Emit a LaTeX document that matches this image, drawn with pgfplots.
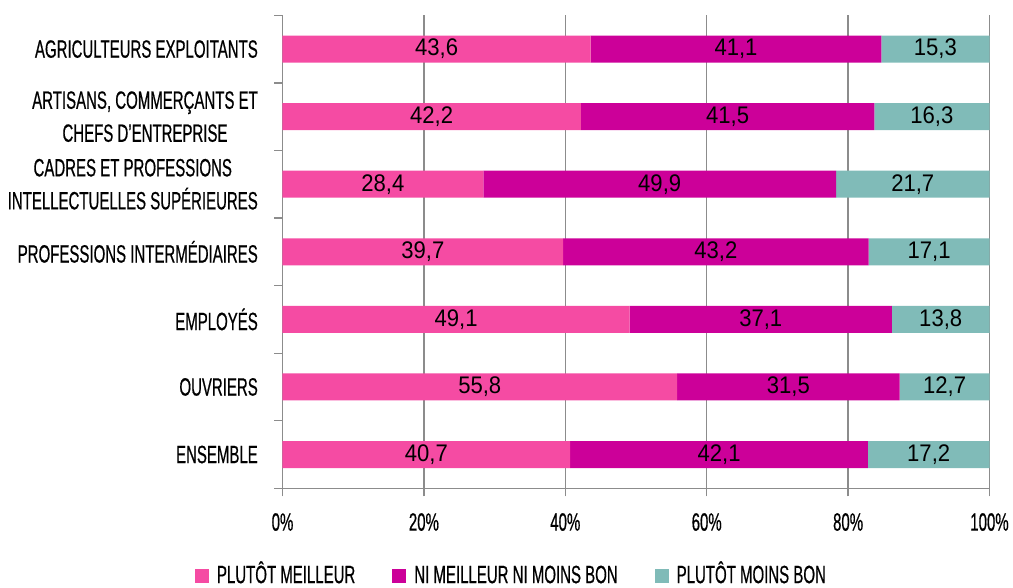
\documentclass[border=0pt]{standalone}
\usepackage{pgfplots}
\pgfplotsset{compat=1.18}
\usepackage{pgfplotstable}
\usepackage{fontspec}
\setmainfont{Liberation Sans}[FakeStretch=0.6, FakeBold=0.5]
\newfontfamily\numfont{Liberation Sans}[FakeStretch=0.92]
\definecolor{cpink}{HTML}{F54BA3}
\definecolor{cmag}{HTML}{CC0099}
\definecolor{cteal}{HTML}{80BBB8}
\definecolor{cgrid}{RGB}{140,140,140}
\pgfplotstableread{
y a b c
0 40.7 42.1 17.2
1 55.8 31.5 12.7
2 49.1 37.1 13.8
3 39.7 43.2 17.1
4 28.4 49.9 21.7
5 42.2 41.5 16.3
6 43.6 41.1 15.3
}\data
\pgfplotstableread{
x y l
20.35 0 40,7
61.75 0 42,1
91.4 0 17,2
27.9 1 55,8
71.55 1 31,5
93.65 1 12,7
24.55 2 49,1
67.65 2 37,1
93.1 2 13,8
19.85 3 39,7
61.3 3 43,2
91.45 3 17,1
14.2 4 28,4
53.35 4 49,9
89.15 4 21,7
21.1 5 42,2
62.95 5 41,5
91.85 5 16,3
21.8 6 43,6
64.15 6 41,1
92.35 6 15,3
}\labels
\begin{document}
\begin{tikzpicture}
\begin{axis}[name=ax,
  scale only axis, width=707pt, height=473pt,
  xmin=0, xmax=100, ymin=-0.5, ymax=6.5,
  axis x line*=bottom, axis y line*=left,
  axis line style={cgrid, line width=1.3pt, -},
  xtick={0,20,...,100},
  xticklabel={\pgfmathprintnumber{\tick}\%},
  /pgf/number format/assume math mode=true,
  ytick={0,...,6},
  yticklabels={ENSEMBLE, OUVRIERS, EMPLOYÉS, PROFESSIONS INTERMÉDIAIRES,
    {CADRES ET PROFESSIONS\\INTELLECTUELLES SUPÉRIEURES},
    {ARTISANS, COMMERÇANTS ET\\CHEFS D'ENTREPRISE},
    AGRICULTEURS EXPLOITANTS},
  minor ytick={-0.5,0.5,...,6.5},
  tick align=outside,
  major tick length=8pt, minor tick length=8pt,
  every tick/.append style={cgrid, line width=1.3pt},
  major y tick style={draw=none},
  xmajorgrids, grid style={cgrid, line width=1.3pt},
  ticklabel style={font=\fontsize{25}{33}\selectfont, text=black},
  xticklabel style={inner sep=0pt, yshift=-16.7pt},
  yticklabel style={inner sep=0pt, align=center, xshift=-16.5pt},
  xbar stacked, bar width=27pt,
  legend columns=3,
  legend image code/.code={\fill[#1] (0pt,0pt) rectangle (14pt,14pt);},
  legend style={at={(-0.1238,-0.1790)}, anchor=west, draw=none, fill=none,
    inner sep=0pt, outer sep=0pt, cells={anchor=base west},
    nodes={inner sep=0pt},
    font=\fontsize{25}{28}\selectfont,
    /tikz/every odd column/.append style={column sep=8pt},
    /tikz/every even column/.append style={column sep=37pt}},
]
\addplot[fill=cpink, draw=none] table[x=a, y=y]{\data};
\addlegendentry{PLUTÔT MEILLEUR}
\addplot[fill=cmag, draw=none] table[x=b, y=y]{\data};
\addlegendentry{NI MEILLEUR NI MOINS BON}
\addplot[fill=cteal, draw=none] table[x=c, y=y]{\data};
\addlegendentry{PLUTÔT MOINS BON}
\end{axis}
\begin{axis}[at={(ax.south west)}, anchor=south west,
  scale only axis, width=707pt, height=473pt,
  xmin=0, xmax=100, ymin=-0.5, ymax=6.5, hide axis, clip=false]
\addplot[draw=none, mark=none, nodes near coords, point meta=explicit symbolic,
  every node near coord/.append style={anchor=center, inner sep=0pt, text=black,
    font=\numfont\fontsize{24}{28}\selectfont}]
  table[x=x, y=y, meta=l]{\labels};
\end{axis}
\pgfresetboundingbox
\path[use as bounding box] ([xshift=-282.5pt,yshift=-99.7pt]ax.south west) rectangle ([xshift=730.5pt,yshift=488.3pt]ax.south west);
\end{tikzpicture}
\end{document}
